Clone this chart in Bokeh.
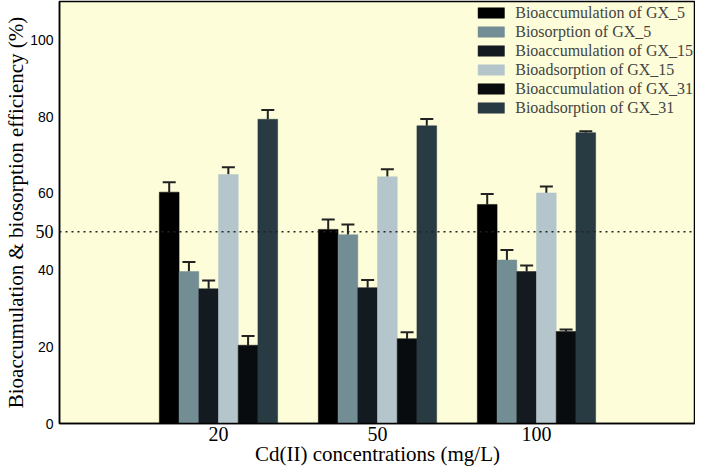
from bokeh.plotting import figure
from bokeh.models import (ColumnDataSource, Whisker, TeeHead, Span, LinearAxis,
                          FixedTicker, Range1d, Legend, LegendItem)
from bokeh.embed import file_html
from bokeh.resources import INLINE

# ---- data ----
concentrations = ["20", "50", "100"]
series_names = ["Bioaccumulation of GX_5", "Biosorption of GX_5",
                "Bioaccumulation of GX_15", "Bioadsorption of GX_15",
                "Bioaccumulation of GX_31", "Bioadsorption of GX_31"]
acc_gx5 = [60.3, 50.6, 57.1]
acc_gx5_err = [2.6, 2.6, 2.7]
bios_gx5 = [39.6, 49.2, 42.6]
bios_gx5_err = [2.5, 2.7, 2.6]
acc_gx15 = [35.1, 35.4, 39.6]
acc_gx15_err = [2.2, 2.0, 1.6]
bioads_gx15 = [64.9, 64.3, 60.1]
bioads_gx15_err = [1.9, 2.0, 1.7]
acc_gx31 = [20.4, 22.1, 24.0]
acc_gx31_err = [2.4, 1.7, 0.5]
bioads_gx31 = [79.3, 77.6, 75.8]
bioads_gx31_err = [2.4, 1.8, 0.4]
y_ticks = [0, 20, 40, 60, 80, 100]
reference_level = 50

values = [acc_gx5, bios_gx5, acc_gx15, bioads_gx15, acc_gx31, bioads_gx31]
errors = [acc_gx5_err, bios_gx5_err, acc_gx15_err, bioads_gx15_err, acc_gx31_err, bioads_gx31_err]
colors = ["#000000", "#738d94", "#141b20", "#b4c6cb", "#090c0f", "#283a42"]

SERIF = "Liberation Serif"
SANS = "Liberation Sans"

p = figure(width=695, height=468, output_backend="svg", toolbar_location=None,
           x_range=Range1d(0, 4), y_range=Range1d(0, 110),
           background_fill_color="#fdfdd9", border_fill_color="white",
           min_border_top=1, min_border_right=0, min_border_left=20, min_border_bottom=20)
p.outline_line_color = "black"
p.outline_line_width = 1.5
p.xgrid.visible = False
p.ygrid.visible = False

bar_w = 0.124
group_pos = [1, 2, 3]
items = []
for i, (vals, errs, col, name) in enumerate(zip(values, errors, colors, series_names)):
    off = (i - 2.5) * bar_w
    xs = [g + off for g in group_pos]
    src = ColumnDataSource(dict(x=xs, top=vals, upper=[v + e for v, e in zip(vals, errs)]))
    r = p.vbar(x="x", top="top", width=bar_w, source=src, fill_color=col,
               line_color=col, line_width=0.5)
    w = Whisker(base="x", lower="top", upper="upper", source=src, dimension="height",
                line_color="#222222", line_width=2,
                upper_head=TeeHead(size=13, line_color="#222222", line_width=2),
                lower_head=None)
    p.add_layout(w)
    items.append(LegendItem(label=name, renderers=[r]))

span = Span(location=reference_level, dimension="width", line_color="#222222",
            line_width=1.5, line_dash="2 4")
p.add_layout(span)

legend = Legend(items=items, location="top_right", border_line_color=None,
                background_fill_alpha=0, label_text_font=SERIF, label_text_font_size="16px",
                glyph_width=33, glyph_height=13, label_height=19, spacing=0,
                label_standoff=8, margin=2, padding=4)
p.add_layout(legend, "center")

# x axis
xax = p.xaxis[0]
xax.ticker = FixedTicker(ticks=group_pos)
xax.major_label_overrides = {g: c for g, c in zip(group_pos, concentrations)}
xax.major_label_text_font = SERIF
xax.major_label_text_font_size = "20px"
xax.axis_label = "Cd(II) concentrations (mg/L)"
xax.axis_label_text_font = SERIF
xax.axis_label_text_font_style = "normal"
xax.axis_label_text_font_size = "21px"
xax.axis_label_standoff = -2
xax.major_label_standoff = 3

# main y axis (sans-serif ticks)
yax = p.yaxis[0]
yax.ticker = FixedTicker(ticks=y_ticks)
yax.major_label_text_font = SANS
yax.major_label_text_font_size = "14px"
yax.major_label_standoff = 6

for ax in (xax, yax):
    ax.major_tick_out = 0
    ax.major_tick_in = 0
    ax.major_tick_line_color = None
    ax.minor_tick_line_color = None
    ax.axis_line_color = "black"
    ax.axis_line_width = 1.5
    ax.major_label_text_color = "black"
    ax.axis_label_text_color = "black"

# the "50" reference tick is drawn in a serif face in the original
ref_axis = LinearAxis(ticker=FixedTicker(ticks=[reference_level]),
                      major_label_text_font=SERIF, major_label_text_font_size="18px",
                      major_label_text_color="black", major_label_standoff=-26,
                      major_tick_out=0, major_tick_in=0,
                      axis_line_color=None, major_tick_line_color=None,
                      minor_tick_line_color=None)
p.add_layout(ref_axis, "left")

# outer axis carrying only the title
title_axis = LinearAxis(ticker=FixedTicker(ticks=[]),
                        axis_label="Bioaccumulation & biosorption efficiency (%)",
                        axis_label_text_font=SERIF, axis_label_text_font_style="normal",
                        axis_label_text_font_size="21px", axis_label_text_color="black",
                        axis_label_standoff=0, major_label_standoff=0,
                        major_tick_out=0, major_tick_in=0,
                        axis_line_color=None, major_tick_line_color=None,
                        minor_tick_line_color=None)
p.add_layout(title_axis, "left")

open("out.html", "w").write(file_html(p, INLINE))
